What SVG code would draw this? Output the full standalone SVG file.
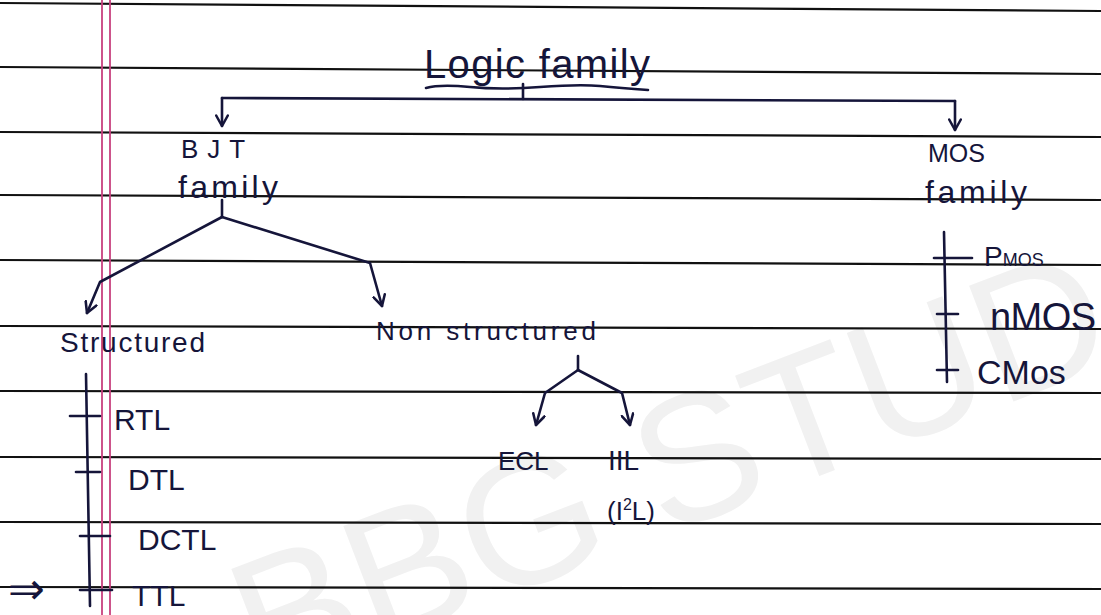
<svg xmlns="http://www.w3.org/2000/svg" width="1101" height="615" viewBox="0 0 1101 615">
<defs>
<style>
.rule{stroke:#111;stroke-width:2.2;fill:none}
.margin{stroke:#c8407e;stroke-width:1.8;fill:none}
.ink{fill:#15153a;font-family:"Liberation Sans",Arial,sans-serif}
.ln{stroke:#15153a;stroke-width:2.6;fill:none;stroke-linecap:round;stroke-linejoin:round}
.wm{fill:#f1f1f1;font-family:"Liberation Sans",Arial,sans-serif;font-size:180px}
</style>
<marker id="arr" viewBox="0 0 12 12" refX="10" refY="6" markerWidth="14" markerHeight="14" markerUnits="userSpaceOnUse" orient="auto">
<path d="M1,1 L10,6 L1,11" fill="none" stroke="#15153a" stroke-width="2.2" stroke-linecap="round" stroke-linejoin="round"/>
</marker>
</defs>
<rect width="1101" height="615" fill="#ffffff"/>
<text class="wm" transform="translate(262,690) rotate(-21)">BBG STUD</text>
<g id="paper">
<path class="rule" d="M0,3 L1101,11"/>
<path class="rule" d="M0,67 L1101,74"/>
<path class="rule" d="M0,132 L1101,137"/>
<path class="rule" d="M0,195 L1101,200"/>
<path class="rule" d="M0,260 L1101,265"/>
<path class="rule" d="M0,326 L1101,329"/>
<path class="rule" d="M0,391 L1101,393"/>
<path class="rule" d="M0,457 L1101,459"/>
<path class="rule" d="M0,522 L1101,524"/>
<path class="rule" d="M0,587 L1101,589"/>
<path class="margin" d="M102,0 L102,615"/>
<path class="margin" d="M110,0 L110,615"/>
</g>
<g id="connectors">
<path class="ln" d="M426,88 Q440,84 470,87 T540,87 T600,86 T648,90"/>
<path class="ln" d="M523,84 L523,99"/>
<path class="ln" d="M222,98 L955,101"/>
<path class="ln" d="M222,98 L222,126" marker-end="url(#arr)"/>
<path class="ln" d="M955,101 L955,130" marker-end="url(#arr)"/>
<path class="ln" d="M222,200 L222,217"/>
<path class="ln" d="M222,217 L100,282 L87,313" marker-end="url(#arr)"/>
<path class="ln" d="M222,217 L370,263 L382,306" marker-end="url(#arr)"/>
<path class="ln" d="M578,356 L578,370"/>
<path class="ln" d="M578,370 L545,393 L536,425" marker-end="url(#arr)"/>
<path class="ln" d="M578,370 L622,393 L630,425" marker-end="url(#arr)"/>
<path class="ln" d="M86,374 L90,606"/>
<path class="ln" d="M70,416 L100,416"/>
<path class="ln" d="M76,472 L100,472"/>
<path class="ln" d="M80,536 L110,536"/>
<path class="ln" d="M80,590 L112,590"/>
<path class="ln" d="M944,232 L947,382"/>
<path class="ln" d="M934,258 L972,258"/>
<path class="ln" d="M937,314 L958,314"/>
<path class="ln" d="M937,370 L958,370"/>
</g>
<g id="logic-family"><text class="ink" x="424" y="78" font-size="40" textLength="226">Logic family</text></g>
<g id="bjt-family">
<text class="ink" x="181" y="158" font-size="26" letter-spacing="9">BJT</text>
<text class="ink" x="178" y="198" font-size="32" textLength="100">family</text>
</g>
<g id="mos-family">
<text class="ink" x="928" y="162" font-size="25">MOS</text>
<text class="ink" x="925" y="203" font-size="32" textLength="102">family</text>
</g>
<g id="structured"><text class="ink" x="60" y="352" font-size="28" textLength="145">Structured</text></g>
<g id="non-structured"><text class="ink" x="376" y="340" font-size="26" textLength="220">Non structured</text></g>
<g id="ecl"><text class="ink" x="498" y="470" font-size="26">ECL</text></g>
<g id="iil">
<text class="ink" x="608" y="470" font-size="28">IIL</text>
<text class="ink" x="607" y="520" font-size="26">(I<tspan font-size="16" dy="-10">2</tspan><tspan dy="10">L)</tspan></text>
</g>
<g id="rtl"><text class="ink" x="114" y="430" font-size="30">RTL</text></g>
<g id="dtl"><text class="ink" x="128" y="490" font-size="30">DTL</text></g>
<g id="dctl"><text class="ink" x="138" y="550" font-size="30">DCTL</text></g>
<g id="ttl">
<text class="ink" x="132" y="606" font-size="30">TTL</text>
<text class="ink" x="8" y="604" font-size="44" font-family="DejaVu Sans,sans-serif">⇒</text>
</g>
<g id="pmos"><text class="ink" x="984" y="266" font-size="28">P<tspan font-size="18">MOS</tspan></text></g>
<g id="nmos"><text class="ink" x="990" y="330" font-size="38" textLength="106">nMOS</text></g>
<g id="cmos"><text class="ink" x="977" y="384" font-size="34">CMos</text></g>
</svg>
